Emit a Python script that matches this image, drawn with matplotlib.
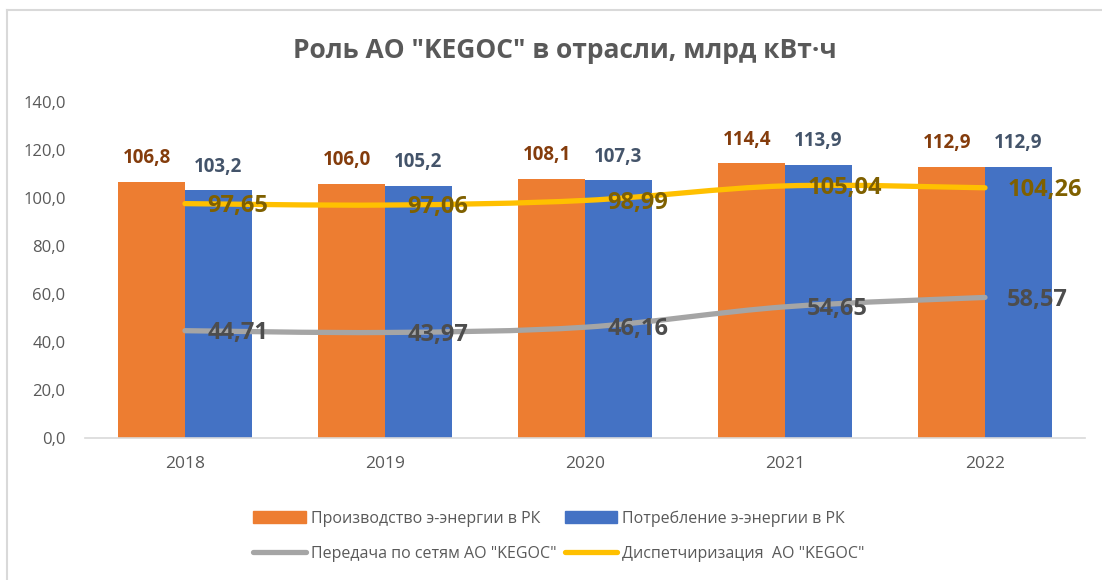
import numpy as np
import matplotlib
matplotlib.use('Agg')
import matplotlib.pyplot as plt
from matplotlib.path import Path
from matplotlib.patches import PathPatch, Patch
from matplotlib.lines import Line2D

# данные
years = ['2018', '2019', '2020', '2021', '2022']
production = [106.8, 106.0, 108.1, 114.4, 112.9]
consumption = [103.2, 105.2, 107.3, 113.9, 112.9]
transmission = [44.71, 43.97, 46.16, 54.65, 58.57]
dispatch = [97.65, 97.06, 98.99, 105.04, 104.26]

name_prod = 'Производство э-энергии в РК'
name_cons = 'Потребление э-энергии в РК'
name_trans = 'Передача по сетям АО "KEGOC"'
name_disp = 'Диспетчиризация  АО "KEGOC"'

plt.rcParams['font.family'] = ['Open Sans', 'DejaVu Sans']

c_orange = '#ED7D31'
c_blue = '#4472C4'
c_gray = '#A5A5A5'
c_yellow = '#FFC000'
c_text = '#595959'


def fmt(v, nd):
    return f'{v:.{nd}f}'.replace('.', ',')


def smooth_path(xs, ys):
    # сглаженная линия как в Excel (Безье через точки)
    pts = np.column_stack([xs, ys]).astype(float)
    n = len(pts)
    verts = [pts[0]]
    codes = [Path.MOVETO]
    for i in range(n - 1):
        p0 = pts[i - 1] if i > 0 else pts[i]
        p1 = pts[i]
        p2 = pts[i + 1]
        p3 = pts[i + 2] if i + 2 < n else pts[i + 1]
        verts += [p1 + (p2 - p0) / 6, p2 - (p3 - p1) / 6, p2]
        codes += [Path.CURVE4] * 3
    return Path(verts, codes)


fig = plt.figure(figsize=(11.02, 5.8), dpi=100)
W, H = 1102, 580
ax = fig.add_axes([85 / W, 1 - 438 / H, 1000 / W, 336 / H])

x = np.arange(len(years))
bw = 0.335
ax.bar(x - bw / 2, production, bw, color=c_orange, zorder=2)
ax.bar(x + bw / 2, consumption, bw, color=c_blue, zorder=2)

for xs, ys, col in [(x, transmission, c_gray), (x, dispatch, c_yellow)]:
    ax.add_patch(PathPatch(smooth_path(xs, ys), fill=False, edgecolor=col,
                           lw=3.8, capstyle='round', joinstyle='round', zorder=3))

# подписи данных
for i in range(len(years)):
    ax.annotate(fmt(production[i], 1), (x[i] - bw / 2, production[i]),
                xytext=(-3, 17), textcoords='offset points', ha='center', va='center',
                fontsize=13.5, fontweight='bold', color='#843C0C', zorder=4)
    ax.annotate(fmt(consumption[i], 1), (x[i] + bw / 2, consumption[i]),
                xytext=(0, 17), textcoords='offset points', ha='center', va='center',
                fontsize=13.5, fontweight='bold', color='#44546A', zorder=4)
    ax.annotate(fmt(dispatch[i], 2), (x[i], dispatch[i]),
                xytext=(16, -1.5), textcoords='offset points', ha='left', va='center',
                fontsize=17, fontweight='bold', color='#7F6000', zorder=4)
    ax.annotate(fmt(transmission[i], 2), (x[i], transmission[i]),
                xytext=(16, -1.5), textcoords='offset points', ha='left', va='center',
                fontsize=17, fontweight='bold', color='#4D4D4D', zorder=4)

ax.set_xlim(-0.5, len(years) - 0.5)
ax.set_ylim(0, 140)
ax.set_yticks(np.arange(0, 141, 20))
ax.set_yticklabels([fmt(v, 1) for v in np.arange(0, 141, 20)])
ax.set_xticks(x)
ax.set_xticklabels(years)
ax.tick_params(axis='y', length=0, colors=c_text, labelsize=12, pad=14)
ax.tick_params(axis='x', length=0, colors=c_text, labelsize=12.5, pad=13)
for s in ['top', 'right', 'left']:
    ax.spines[s].set_visible(False)
ax.spines['bottom'].set_color('#D9D9D9')
ax.spines['bottom'].set_linewidth(1.2)

fig.text(565 / W, 1 - 51 / H, 'Роль АО "KEGOC" в отрасли, млрд кВт·ч',
         ha='center', va='center', fontsize=19, fontweight='bold', color=c_text)

handles = [Patch(color=c_orange), Line2D([], [], color=c_gray, lw=3.8, solid_capstyle='round'),
           Patch(color=c_blue), Line2D([], [], color=c_yellow, lw=3.8, solid_capstyle='round')]
labels = [name_prod, name_trans, name_cons, name_disp]
fig.legend(handles, labels, loc='center', bbox_to_anchor=(559 / W, 1 - 536 / H), ncol=2,
           frameon=False, fontsize=11.5, labelcolor=c_text, handlelength=3.3,
           handletextpad=0.3, columnspacing=0.5, labelspacing=1.2)

# рамка диаграммы
fig.add_artist(Line2D([7 / W, 7 / W], [0, 1 - 10 / H], color='#D9D9D9', lw=1.5))
fig.add_artist(Line2D([7 / W, 1], [1 - 10 / H, 1 - 10 / H], color='#D9D9D9', lw=1.5))

fig.savefig('out.png', dpi=100)
